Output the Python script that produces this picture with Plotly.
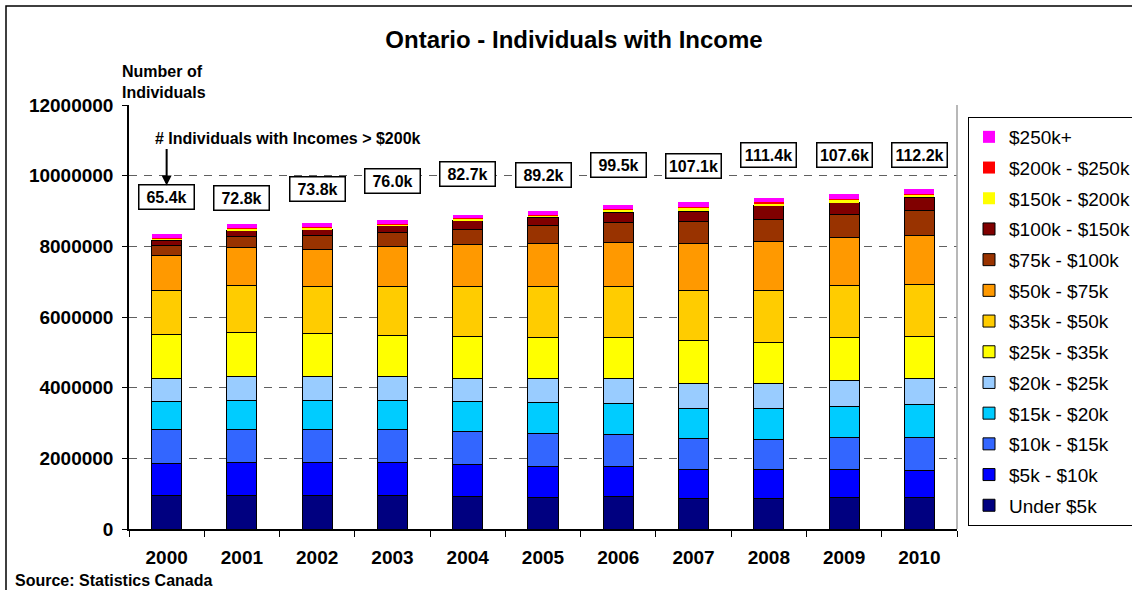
import plotly.graph_objects as go

years = ["2000", "2001", "2002", "2003", "2004", "2005", "2006", "2007", "2008", "2009", "2010"]

under_5k   = [960000, 960000, 960000, 960000, 930000, 900000, 930000, 850000, 860000, 900000, 900000]
k5_10      = [890000, 910000, 910000, 910000, 900000, 860000, 830000, 820000, 810000, 790000, 760000]
k10_15     = [960000, 940000, 950000, 940000, 940000, 940000, 910000, 890000, 850000, 910000, 940000]
k15_20     = [790000, 840000, 830000, 830000, 830000, 890000, 880000, 840000, 880000, 870000, 910000]
k20_25     = [670000, 660000, 660000, 670000, 660000, 660000, 700000, 730000, 720000, 720000, 750000]
k25_35     = [1230000, 1260000, 1230000, 1180000, 1190000, 1180000, 1180000, 1200000, 1160000, 1230000, 1200000]
k35_50     = [1250000, 1320000, 1320000, 1360000, 1400000, 1420000, 1420000, 1410000, 1460000, 1460000, 1470000]
k50_75     = [980000, 1070000, 1060000, 1150000, 1200000, 1220000, 1250000, 1330000, 1400000, 1360000, 1390000]
k75_100    = [300000, 320000, 390000, 380000, 430000, 530000, 570000, 630000, 630000, 660000, 690000]
k100_150   = [140000, 170000, 170000, 200000, 250000, 220000, 290000, 300000, 380000, 340000, 380000]
k150_200   = [65000, 50000, 50000, 50000, 45000, 57000, 70000, 100000, 70000, 85000, 70000]
k200_250   = [15000, 15000, 15000, 15000, 15000, 18000, 20000, 25000, 35000, 25000, 25000]
k250_plus  = [100000, 105000, 105000, 105000, 100000, 105000, 120000, 125000, 125000, 130000, 135000]

series_names = ["Under $5k", "$5k - $10k", "$10k - $15k", "$15k - $20k", "$20k - $25k",
                "$25k - $35k", "$35k - $50k", "$50k - $75k", "$75k - $100k", "$100k - $150k",
                "$150k - $200k", "$200k - $250k", "$250k+"]
series_values = [under_5k, k5_10, k10_15, k15_20, k20_25, k25_35, k35_50, k50_75,
                 k75_100, k100_150, k150_200, k200_250, k250_plus]
series_colors = ["#000080", "#0000FF", "#3366FF", "#00CCFF", "#99CCFF", "#FFFF00", "#FFCC00",
                 "#FF9900", "#993300", "#800000", "#FFFF00", "#FF0000", "#FF00FF"]
series_outline = [1, 1, 1, 1, 1, 1, 1, 1, 1, 1, 0, 0, 0]

over_200k_labels = ["65.4k", "72.8k", "73.8k", "76.0k", "82.7k", "89.2k",
                    "99.5k", "107.1k", "111.4k", "107.6k", "112.2k"]
label_y = [9400000, 9370000, 9620000, 9850000, 10050000, 10020000,
           10300000, 10270000, 10590000, 10590000, 10590000]

y_ticks = [0, 2000000, 4000000, 6000000, 8000000, 10000000, 12000000]

FONT = "Arial, 'Liberation Sans', sans-serif"

fig = go.Figure()
n = len(series_names)
for i, (name, vals, col, ow) in enumerate(zip(series_names, series_values, series_colors, series_outline)):
    fig.add_trace(go.Bar(
        x=years, y=vals, name=name, legendgroup=name, legendrank=100 + n - i,
        marker=dict(color=col, line=dict(color="#000000", width=ow)),
    ))

L, R, T, B = 129, 175, 105, 61
W, H = 1132, 590
pw, ph = W - L - R, H - T - B

def px_x(p):
    return (p - L) / pw

def px_y(p):
    return (H - B - p) / ph

annotations = []
for idx, (lab, ly) in enumerate(zip(over_200k_labels, label_y)):
    annotations.append(dict(
        x=idx, y=ly, xref="x", yref="y", text="<b>" + lab + "</b>", showarrow=False,
        font=dict(family=FONT, size=16, color="#000"),
        bordercolor="#000", borderwidth=1.5, borderpad=2, bgcolor="#fff",
        width=50, height=19, xanchor="center", yanchor="middle",
    ))

# arrow
annotations.append(dict(
    x=0, y=9720000, xref="x", yref="y", text="", showarrow=True,
    ax=0, ay=-38, arrowhead=2, arrowsize=1, arrowwidth=2, arrowcolor="#000",
))
annotations.append(dict(
    x=px_x(153), y=px_y(138), xref="paper", yref="paper", xanchor="left", yanchor="middle",
    text="<b># Individuals with Incomes > $200k</b>", showarrow=False,
    font=dict(family=FONT, size=16, color="#000"),
))
annotations.append(dict(
    x=px_x(120), y=px_y(82), xref="paper", yref="paper", xanchor="left", yanchor="middle",
    text="<b>Number of<br>Individuals</b>", showarrow=False, align="left",
    font=dict(family=FONT, size=16, color="#000"),
))
annotations.append(dict(
    x=px_x(13), y=px_y(580), xref="paper", yref="paper", xanchor="left", yanchor="middle",
    text="<b>Source: Statistics Canada</b>", showarrow=False,
    font=dict(family=FONT, size=16, color="#000"),
))

shapes = [
    dict(type="rect", xref="paper", yref="paper",
         x0=px_x(6), x1=px_x(1145), y0=px_y(600), y1=px_y(6),
         line=dict(color="#000", width=1.5), fillcolor="rgba(0,0,0,0)", layer="below"),
    dict(type="line", xref="paper", yref="paper", x0=1, x1=1, y0=0, y1=1,
         line=dict(color="#a0a0a0", width=1.5)),
]

fig.update_layout(
    width=W, height=H,
    margin=dict(l=L, r=R, t=T, b=B, autoexpand=False),
    paper_bgcolor="#fff", plot_bgcolor="#fff",
    barmode="stack", bargap=0.6,
    font=dict(family=FONT, color="#000"),
    title=dict(text="<b>Ontario - Individuals with Income</b>", x=574 / W, xref="container",
               y=1 - 40 / H, yref="container", xanchor="center", yanchor="middle",
               font=dict(family=FONT, size=24, color="#000")),
    showlegend=True,
    legend=dict(
        x=px_x(968), y=px_y(117), xanchor="left", yanchor="top",
        traceorder="grouped", tracegroupgap=3,
        bordercolor="#000", borderwidth=1, bgcolor="#fff",
        font=dict(family=FONT, size=19, color="#000"),
        itemwidth=30,
    ),
    annotations=annotations,
    shapes=shapes,
)
fig.update_xaxes(
    type="category", showline=True, linecolor="#000", linewidth=1.5,
    ticks="outside", tickson="boundaries", ticklen=6, tickcolor="#000",
    tickfont=dict(family=FONT, size=19, color="#000", weight="bold"),
    ticklabelstandoff=10, showgrid=False,
)
fig.update_yaxes(
    range=[0, 12000000], tickvals=y_ticks, ticktext=[str(v) for v in y_ticks],
    showline=True, linecolor="#000", linewidth=1.5, ticks="outside", ticklen=5, tickcolor="#000",
    tickfont=dict(family=FONT, size=19, color="#000", weight="bold"),
    ticklabelstandoff=5,
    showgrid=True, gridcolor="#606060", gridwidth=1, griddash="8px,7px", zeroline=False,
)

fig.write_html("out.html", config={"displayModeBar": False},
               post_script="document.body.style.margin='0px';document.body.style.overflow='hidden';")
